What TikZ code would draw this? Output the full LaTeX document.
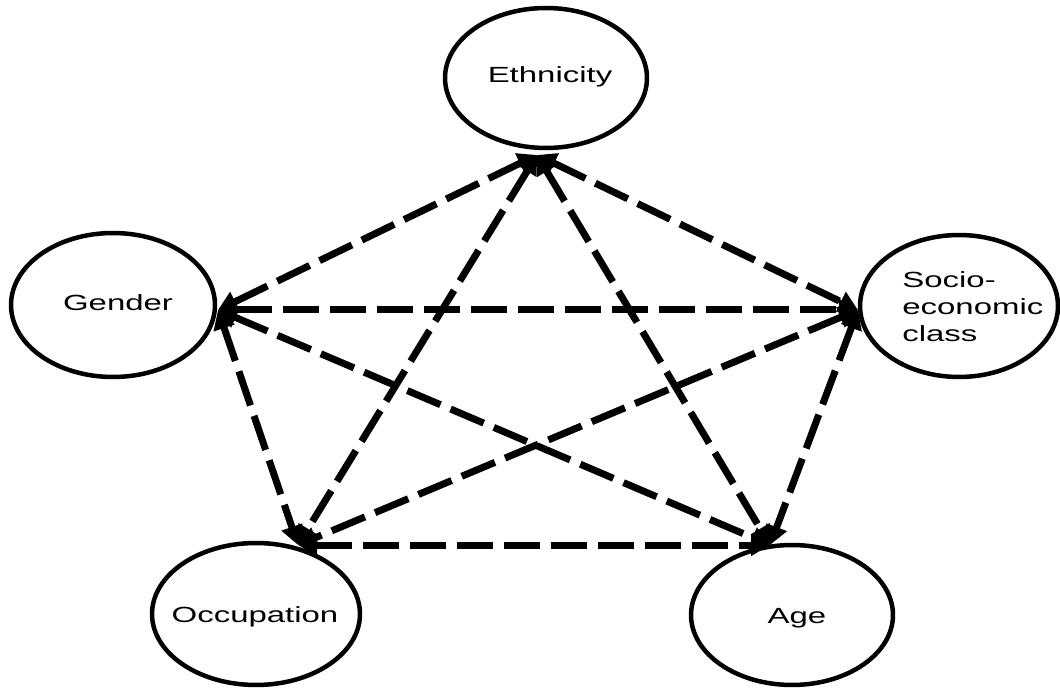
\documentclass[tikz,border=0pt]{standalone}
\usepackage{fontspec}
\setmainfont{Liberation Sans}
\usepackage{graphicx}
\usetikzlibrary{shapes.geometric,arrows.meta}
\newcommand{\widetext}[1]{\scalebox{1.5}[1]{#1}}
\tikzset{
  blob/.style={ellipse, draw, line width=0.09cm, inner sep=0pt},
  lbl/.style={font=\fontsize{12.5}{15.3}\selectfont, inner sep=0pt},
  link/.style={line width=0.14cm, dash pattern=on 0.72cm off 0.22cm,
    {Triangle[length=0.38cm,width=0.42cm]}-{Triangle[length=0.38cm,width=0.42cm]}}
}
\begin{document}
\begin{tikzpicture}[x=0.02cm, y=-0.02cm]
\useasboundingbox (0,0) rectangle (1060,688);
% the five factors
\node[blob, minimum width=4.04cm, minimum height=2.80cm] (eth) at (546,78) {};
\node[lbl] (ethtext) at (550,77) {\widetext{Ethnicity}};
\node[blob, minimum width=4.08cm, minimum height=2.88cm] (gen) at (113,305) {};
\node[lbl] (gentext) at (118,303) {\widetext{Gender}};
\node[blob, minimum width=3.96cm, minimum height=2.84cm] (soc) at (959,306) {};
\node[lbl, anchor=west, align=left] (soctext) at (902,307)
  {\widetext{Socio-}\\\widetext{economic}\\\widetext{class}};
\node[blob, minimum width=4.16cm, minimum height=2.84cm] (occ) at (256,614) {};
\node[lbl] (occtext) at (255,617) {\widetext{Occupation}};
\node[blob, minimum width=4.04cm, minimum height=2.80cm] (age) at (792,615) {};
\node[lbl] (agetext) at (797,618) {\widetext{Age}};
% points where the links meet each ellipse
\coordinate (e) at (537,155);
\coordinate (g) at (218,310);
\coordinate (s) at (858,310);
\coordinate (o) at (298,545);
\coordinate (a) at (770,545);
% every pair of factors is linked both ways
\draw[link] (e) -- (g);
\draw[link] (e) -- (s);
\draw[link] (e) -- (o);
\draw[link] (e) -- (a);
\draw[link] (g) -- (s);
\draw[link] (g) -- (o);
\draw[link] (g) -- (a);
\draw[link] (s) -- (o);
\draw[link] (s) -- (a);
\draw[link] (o) -- (a);
\end{tikzpicture}
\end{document}
